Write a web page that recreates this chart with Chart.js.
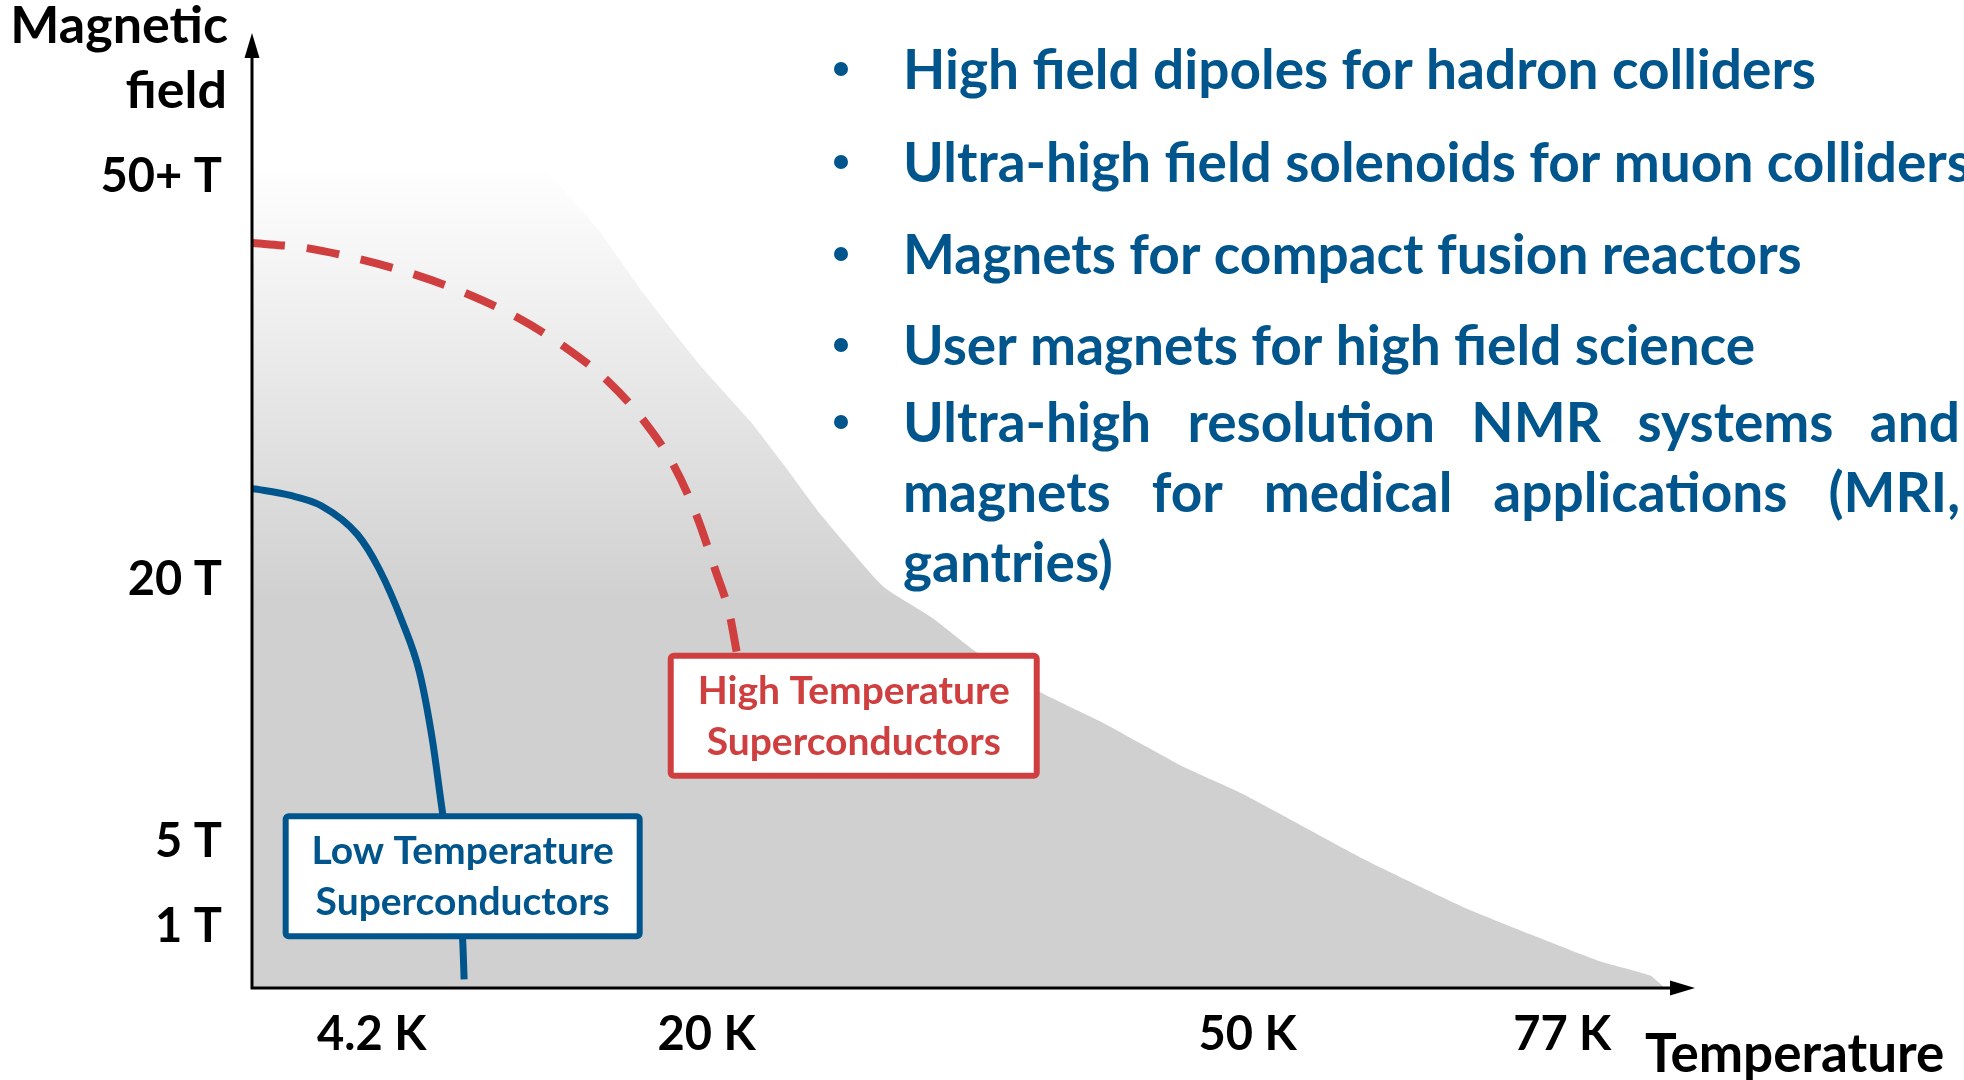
<!DOCTYPE html>
<html>
<head>
<meta charset="utf-8">
<title>Magnetic field vs temperature</title>
<script src="https://cdn.jsdelivr.net/npm/chart.js@4.4.1/dist/chart.umd.min.js"></script>
<style>
  html, body { margin: 0; padding: 0; background: #fff; }
  canvas { display: block; }
</style>
</head>
<body>
<canvas id="chart" width="1964" height="1080"></canvas>
<script>
// schematic axes, both run 0..100
var xTickVals = [8.3, 31.5, 69.0, 90.8];
var xTickLabels = ['4.2 K', '20 K', '50 K', '77 K'];
var yTickVals = [6.4, 15.3, 42.7, 84.9];
var yTickLabels = ['1 T', '5 T', '20 T', '50+ T'];

// upper edge of the shaded operating region
var envX = [0, 1.5, 5.6, 10.3, 14.9, 17.4, 20.7, 24.1, 27.1, 31.0, 34.5, 36.8, 39.4, 43.7, 47.2, 50.0, 54.6, 58.8, 64.5, 68.7, 77.3, 84.2, 88.8, 93.4, 96.9, 97.9];
var envY = [99.6, 99.6, 97.9, 95.1, 91.9, 89.6, 85.1, 79.2, 72.8, 65.3, 59.4, 54.9, 49.6, 42.1, 38.7, 35.4, 31.0, 27.9, 23.2, 20.3, 13.3, 8.3, 5.5, 2.8, 1.3, 0];

// low temperature superconductor limit
var ltsX = [0, 2.6, 4.8, 7.3, 8.8, 10.4, 11.6, 12.5, 13.2, 13.9, 14.6, 14.7];
var ltsY = [52.3, 51.6, 50.5, 47.5, 43.9, 38.4, 33.1, 26.0, 18.4, 11.7, 5.0, 0.9];

// high temperature superconductor limit (runs into its label box)
var htsX = [0, 3.7, 7.5, 11.3, 14.9, 18.4, 21.7, 24.7, 27.2, 29.2, 30.8, 32.1, 33.1, 33.6];
var htsY = [78.0, 77.5, 76.3, 74.7, 72.7, 70.2, 67.1, 63.5, 59.3, 54.8, 49.5, 43.8, 39.1, 35.1];

var applications = [
  ['High field dipoles for hadron colliders'],
  ['Ultra-high field solenoids for muon colliders'],
  ['Magnets for compact fusion reactors'],
  ['User magnets for high field science'],
  ['Ultra-high resolution NMR systems and', 'magnets for medical applications (MRI,', 'gantries)']
];

var BLUE = '#00558c';
var RED = '#d03f3f';
var FONT = 'Lato, "Open Sans", sans-serif';

function pts(xs, ys) {
  return xs.map(function(x, i) { return {x: x, y: ys[i]}; });
}

// label boxes, anchored at their centre in data units
var boxes = [
  {lines: ['Low Temperature', 'Superconductors'], x: 14.6, y: 11.7, w: 360, h: 126, color: BLUE},
  {lines: ['High Temperature', 'Superconductors'], x: 41.7, y: 28.5, w: 372, h: 126, color: RED}
];

var decor = {
  id: 'decor',
  afterDatasetsDraw: function(chart) {
    var ctx = chart.ctx;
    var a = chart.chartArea;
    var sx = chart.scales.x, sy = chart.scales.y;
    ctx.save();

    // label boxes
    boxes.forEach(function(b) {
      var cx = sx.getPixelForValue(b.x);
      var cy = sy.getPixelForValue(b.y);
      ctx.beginPath();
      ctx.roundRect(cx - b.w / 2 + 3, cy - b.h / 2 + 3, b.w - 6, b.h - 6, 3);
      ctx.fillStyle = '#fff';
      ctx.fill();
      ctx.lineWidth = 6;
      ctx.strokeStyle = b.color;
      ctx.stroke();
      ctx.fillStyle = b.color;
      ctx.font = '700 39px ' + FONT;
      ctx.textAlign = 'center';
      ctx.textBaseline = 'alphabetic';
      ctx.fillText(b.lines[0], cx, cy - 12);
      ctx.fillText(b.lines[1], cx, cy + 39);
    });

    // axes with arrow heads
    ctx.strokeStyle = '#000';
    ctx.fillStyle = '#000';
    ctx.lineWidth = 3;
    ctx.beginPath();
    ctx.moveTo(a.left, a.bottom + 1.5);
    ctx.lineTo(a.left, a.top + 20);
    ctx.moveTo(a.left - 1.5, a.bottom);
    ctx.lineTo(a.right - 20, a.bottom);
    ctx.stroke();
    ctx.beginPath();
    ctx.moveTo(a.left, a.top);
    ctx.lineTo(a.left - 7.5, a.top + 25);
    ctx.lineTo(a.left + 7.5, a.top + 25);
    ctx.closePath();
    ctx.fill();
    ctx.beginPath();
    ctx.moveTo(a.right, a.bottom);
    ctx.lineTo(a.right - 25, a.bottom - 7.5);
    ctx.lineTo(a.right - 25, a.bottom + 7.5);
    ctx.closePath();
    ctx.fill();

    // axis titles
    ctx.font = '700 52px ' + FONT;
    ctx.textAlign = 'right';
    ctx.fillText('Magnetic', 228, 43);
    ctx.fillText('field', 227, 108);
    ctx.font = '700 53px ' + FONT;
    ctx.textAlign = 'left';
    ctx.fillText('Temperature', 1645, 1072);

    // application list
    var baselines = [89, 182, 274, 365, 442];
    var textX = 903, right = 1960, lineStep = 70;
    ctx.fillStyle = BLUE;
    ctx.font = '700 55px ' + FONT;
    applications.forEach(function(item, i) {
      var y0 = baselines[i];
      ctx.beginPath();
      ctx.arc(841, y0 - 20, 7, 0, Math.PI * 2);
      ctx.fill();
      item.forEach(function(line, j) {
        var y = y0 + j * lineStep;
        if (item.length > 1 && j < item.length - 1) {
          // justified line
          var words = line.split(' ');
          var total = 0;
          words.forEach(function(w) { total += ctx.measureText(w).width; });
          var gap = (right - textX - total) / (words.length - 1);
          var x = textX;
          words.forEach(function(w) {
            ctx.fillText(w, x, y);
            x += ctx.measureText(w).width + gap;
          });
        } else {
          ctx.fillText(line, textX, y);
        }
      });
    });

    ctx.restore();
  }
};

function regionFill(context) {
  var chart = context.chart;
  if (!chart.chartArea) return '#d0d0d0';
  var sy = chart.scales.y;
  var g = chart.ctx.createLinearGradient(0, sy.getPixelForValue(86), 0, sy.getPixelForValue(40.5));
  g.addColorStop(0, '#ffffff');
  g.addColorStop(1, '#d0d0d0');
  return g;
}

var tickFont = {family: FONT, size: 47, weight: 'bold'};

new Chart(document.getElementById('chart'), {
  type: 'line',
  data: {
    datasets: [
      {
        label: 'region',
        data: pts(envX, envY),
        fill: 'origin',
        backgroundColor: regionFill,
        borderWidth: 0,
        pointRadius: 0,
        tension: 0.15,
        order: 3
      },
      {
        label: 'HTS',
        data: pts(htsX, htsY),
        fill: false,
        borderColor: RED,
        borderWidth: 8,
        borderDash: [33, 22],
        borderCapStyle: 'butt',
        cubicInterpolationMode: 'monotone',
        pointRadius: 0,
        order: 2
      },
      {
        label: 'LTS',
        data: pts(ltsX, ltsY),
        fill: false,
        borderColor: BLUE,
        borderWidth: 7,
        borderCapStyle: 'butt',
        cubicInterpolationMode: 'monotone',
        pointRadius: 0,
        order: 1
      }
    ]
  },
  options: {
    responsive: false,
    animation: false,
    devicePixelRatio: 1,
    layout: {padding: {left: 0, top: 33, right: 269, bottom: 0}},
    plugins: {legend: {display: false}, tooltip: {enabled: false}},
    scales: {
      x: {
        type: 'linear',
        min: 0,
        max: 100,
        grid: {display: false, drawTicks: false},
        border: {display: false},
        afterBuildTicks: function(s) { s.ticks = xTickVals.map(function(v) { return {value: v}; }); },
        afterFit: function(s) { s.height = 92; s.paddingLeft = 0; s.paddingRight = 0; },
        ticks: {
          autoSkip: false,
          maxRotation: 0,
          padding: 19,
          color: '#000',
          font: tickFont,
          callback: function(v, i) { return xTickLabels[i]; }
        }
      },
      y: {
        type: 'linear',
        min: 0,
        max: 100,
        grid: {display: false, drawTicks: false},
        border: {display: false},
        afterBuildTicks: function(s) { s.ticks = yTickVals.map(function(v) { return {value: v}; }); },
        afterFit: function(s) { s.width = 252; s.paddingTop = 0; s.paddingBottom = 0; },
        ticks: {
          autoSkip: false,
          padding: 30,
          color: '#000',
          font: tickFont,
          callback: function(v, i) { return yTickLabels[i]; }
        }
      }
    }
  },
  plugins: [decor]
});
</script>
</body>
</html>
